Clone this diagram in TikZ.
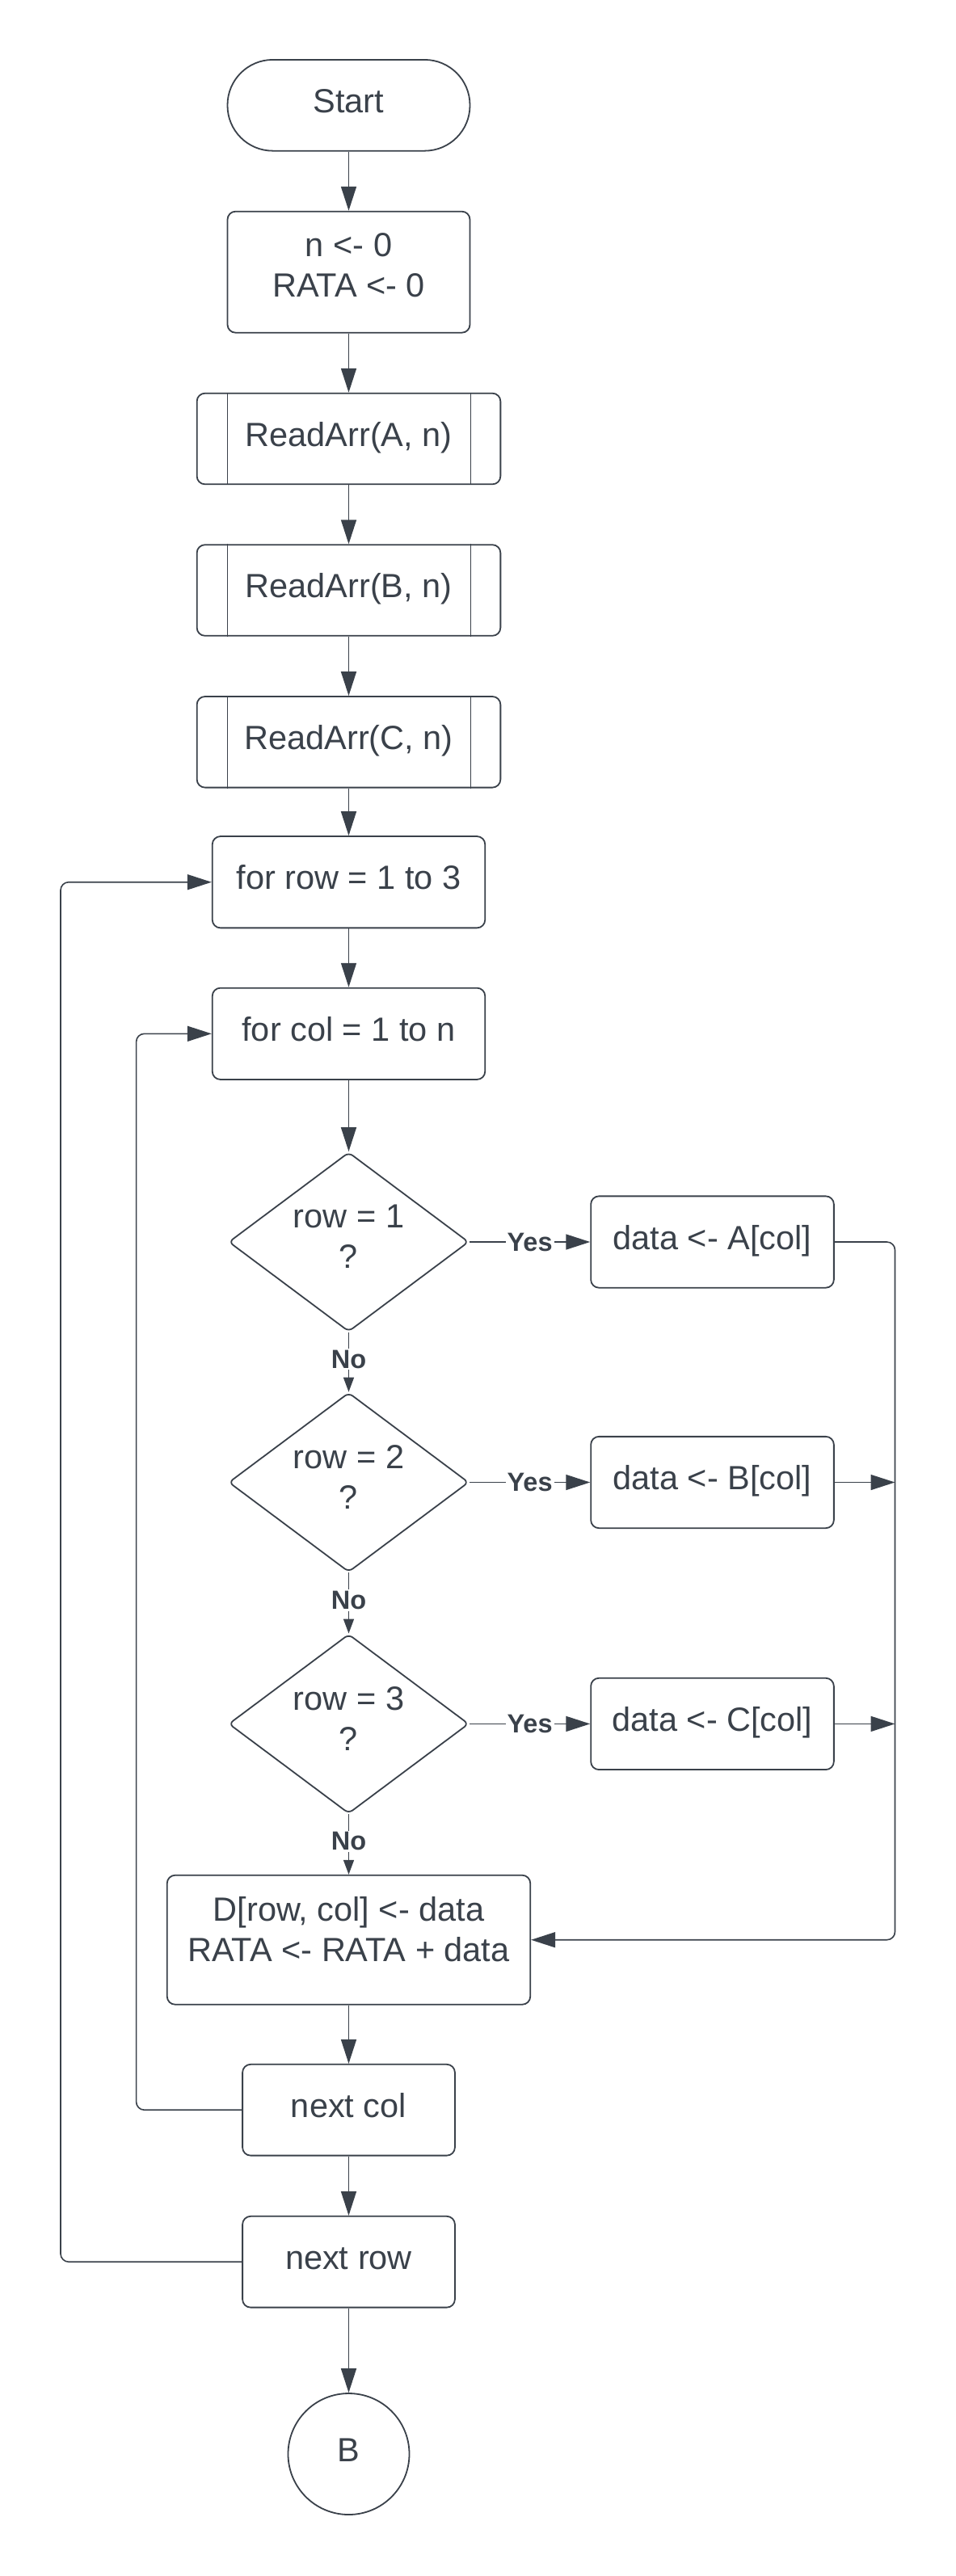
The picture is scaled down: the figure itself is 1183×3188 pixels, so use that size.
\documentclass[tikz,border=0pt]{standalone}
\usepackage{fontspec}
\setmainfont{Liberation Sans}
\usetikzlibrary{arrows.meta,shapes.geometric}
\definecolor{ink}{HTML}{3A414A}
\newcommand\dnstrut[1]{\rule[-#1]{0pt}{#1}}
\begin{document}
\begin{tikzpicture}[x=1pt,y=-1pt,
  every node/.style={text=ink,font=\fontsize{41.5}{50}\selectfont},
  base/.style={draw=ink,line width=1.8pt,inner sep=0pt,fill=white},
  box/.style={base,rounded corners=10pt},
  oneline/.style={text height=30pt,text depth=12pt},
  multi/.style={align=center},
  decision/.style={base,diamond,rounded corners=6pt,shape aspect=1.34,
    minimum width=297pt,minimum height=222pt,align=center},
  conn/.style={draw=ink,line width=1.6pt},
  flow/.style={conn,-{Triangle[length=30pt,width=19pt]}},
  shortflow/.style={conn,-{Triangle[length=18pt,width=13pt]}},
  lab/.style={fill=white,inner sep=2pt,font=\bfseries\fontsize{32.5}{36}\selectfont}]

\fill[white] (0,0) rectangle (1183,3188);
\useasboundingbox (0,0) rectangle (1183,3188);

% main column
\node[box,rounded corners=56pt,oneline,minimum width=300pt,minimum height=112.7pt] (start) at (431.5,130.3) {Start};
\node[box,multi,minimum width=300pt,minimum height=150pt] (init) at (431.5,336.7) {n <- 0\\RATA <- 0\dnstrut{18pt}};
\node[box,oneline,minimum width=375.7pt,minimum height=112.6pt] (readA) at (431.5,543) {ReadArr(A, n)};
\node[box,oneline,minimum width=375.7pt,minimum height=112.6pt] (readB) at (431.5,730.5) {ReadArr(B, n)};
\node[box,oneline,minimum width=375.7pt,minimum height=112.6pt] (readC) at (431.5,918.3) {ReadArr(C, n)};
\foreach \n in {readA,readB,readC}{
  \draw[conn,line width=1.2pt] ([xshift=38.4pt]\n.north west) -- ([xshift=38.4pt]\n.south west);
  \draw[conn,line width=1.2pt] ([xshift=-37.4pt]\n.north east) -- ([xshift=-37.4pt]\n.south east);
}
\node[box,oneline,minimum width=337.5pt,minimum height=113.3pt] (forrow) at (431.5,1091.7) {for row = 1 to 3};
\node[box,oneline,minimum width=337.5pt,minimum height=113.3pt] (forcol) at (431.5,1279.3) {for col = 1 to n};

\node[decision] (d1) at (431.5,1537) {row = 1\\?\dnstrut{13pt}};
\node[decision] (d2) at (431.5,1834.5) {row = 2\\?\dnstrut{13pt}};
\node[decision] (d3) at (431.5,2133.4) {row = 3\\?\dnstrut{13pt}};

\node[box,oneline,minimum width=300.7pt,minimum height=113.3pt] (dA) at (881.5,1537) {data <- A[col]};
\node[box,oneline,minimum width=300.7pt,minimum height=113.3pt] (dB) at (881.5,1834.5) {data <- B[col]};
\node[box,oneline,minimum width=300.7pt,minimum height=113.3pt] (dC) at (881.5,2133.4) {data <- C[col]};

\node[box,multi,minimum width=449.5pt,minimum height=160pt] (D) at (431.5,2400.7) {D[row, col] <- data\\RATA <- RATA + data\dnstrut{27pt}};
\node[box,oneline,minimum width=262.8pt,minimum height=112.8pt] (nextcol) at (431.5,2611.2) {next col};
\node[box,oneline,minimum width=262.8pt,minimum height=112.8pt] (nextrow) at (431.5,2799.2) {next row};
\node[base,circle,oneline,minimum size=150pt] (B) at (431.5,3037) {B};

% connectors
\draw[flow] (start) -- (init);
\draw[flow] (init) -- (readA);
\draw[flow] (readA) -- (readB);
\draw[flow] (readB) -- (readC);
\draw[flow] (readC) -- (forrow);
\draw[flow] (forrow) -- (forcol);
\draw[flow] (forcol) -- (d1);
\draw[flow] (d1) -- node[lab]{Yes} (dA);
\draw[flow] (d2) -- node[lab]{Yes} (dB);
\draw[flow] (d3) -- node[lab]{Yes} (dC);
\draw[shortflow] (d1) -- node[lab,pos=0.45]{No} (d2);
\draw[shortflow] (d2) -- node[lab,pos=0.45]{No} (d3);
\draw[shortflow] (d3) -- node[lab,pos=0.45]{No} (D);
\draw[flow] (D) -- (nextcol);
\draw[flow] (nextcol) -- (nextrow);
\draw[flow] (nextrow) -- (B);

\coordinate (rx) at (1107.5,0);
\draw[flow,rounded corners=10pt] (dA.east) -- (dA.east -| rx) -- (D.east -| rx) -- (D.east);
\draw[flow] (dB.east) -- (dB.east -| rx);
\draw[flow] (dC.east) -- (dC.east -| rx);

\coordinate (colx) at (168.6,0);
\coordinate (rowx) at (75,0);
\draw[flow,rounded corners=10pt] (nextcol.west) -- (nextcol.west -| colx) -- (forcol.west -| colx) -- (forcol.west);
\draw[flow,rounded corners=10pt] (nextrow.west) -- (nextrow.west -| rowx) -- (forrow.west -| rowx) -- (forrow.west);
\end{tikzpicture}
\end{document}
